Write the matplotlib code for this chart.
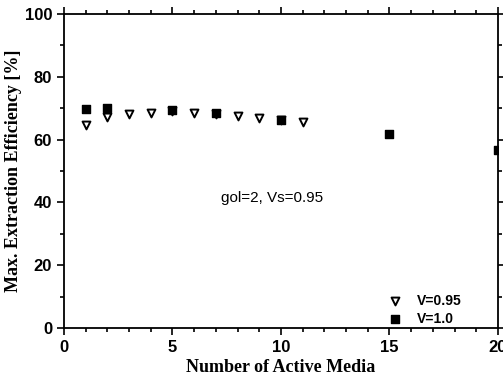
import matplotlib
matplotlib.use("Agg")
import matplotlib.pyplot as plt
from matplotlib.ticker import MultipleLocator

x_v095 = [1, 2, 3, 4, 5, 6, 7, 8, 9, 10, 11]
y_v095 = [64.8, 67.3, 68.2, 68.6, 69.0, 68.5, 68.3, 67.6, 67.0, 66.4, 65.6]
x_v10 = [1, 2, 5, 7, 10, 15, 20]
y_v10 = [69.8, 70.0, 69.5, 68.5, 66.3, 61.8, 56.8]

fig = plt.figure(figsize=(5.03, 3.8), dpi=100)
ax = fig.add_axes([0.127, 0.137, 0.863, 0.826])

ax.scatter(x_v095, y_v095, marker='v', s=32, facecolors='white', edgecolors='black', linewidths=1.4, label='V=0.95', zorder=3)
ax.scatter(x_v10, y_v10, marker='s', s=26, color='black', label='V=1.0', zorder=3)

ax.set_xlim(0, 20)
ax.set_ylim(0, 100)
ax.xaxis.set_major_locator(MultipleLocator(5))
ax.xaxis.set_minor_locator(MultipleLocator(1))
ax.yaxis.set_major_locator(MultipleLocator(20))
ax.yaxis.set_minor_locator(MultipleLocator(10))
ax.tick_params(which='both', top=True, right=True, direction='in', width=1.2)
ax.tick_params(axis='x', which='both', bottom=True, direction='out')
ax.tick_params(axis='y', which='both', left=True, direction='out')
ax.tick_params(which='major', length=5)
ax.tick_params(which='minor', length=3)
for lbl in ax.get_xticklabels() + ax.get_yticklabels():
    lbl.set_fontfamily('Liberation Sans')
    lbl.set_fontweight('bold')
    lbl.set_fontsize(12)
for s in ax.spines.values():
    s.set_linewidth(1.3)

ax.set_xlabel('Number of Active Media', fontfamily='Liberation Serif', fontweight='bold', fontsize=13, labelpad=3)
ax.set_ylabel('Max. Extraction Efficiency [%]', fontfamily='Liberation Serif', fontweight='bold', fontsize=13, labelpad=2)

ax.text(0.48, 0.414, 'gol=2, Vs=0.95', transform=ax.transAxes, ha='center', va='center',
        fontfamily='Liberation Sans', fontsize=11)

leg = ax.legend(loc='lower right', frameon=False, handletextpad=0.6, borderaxespad=0.0,
                prop={'family': 'Liberation Sans', 'weight': 'bold', 'size': 10}, labelspacing=0.25,
                bbox_to_anchor=(0.93, -0.01))

fig.savefig('out.png', dpi=100)
